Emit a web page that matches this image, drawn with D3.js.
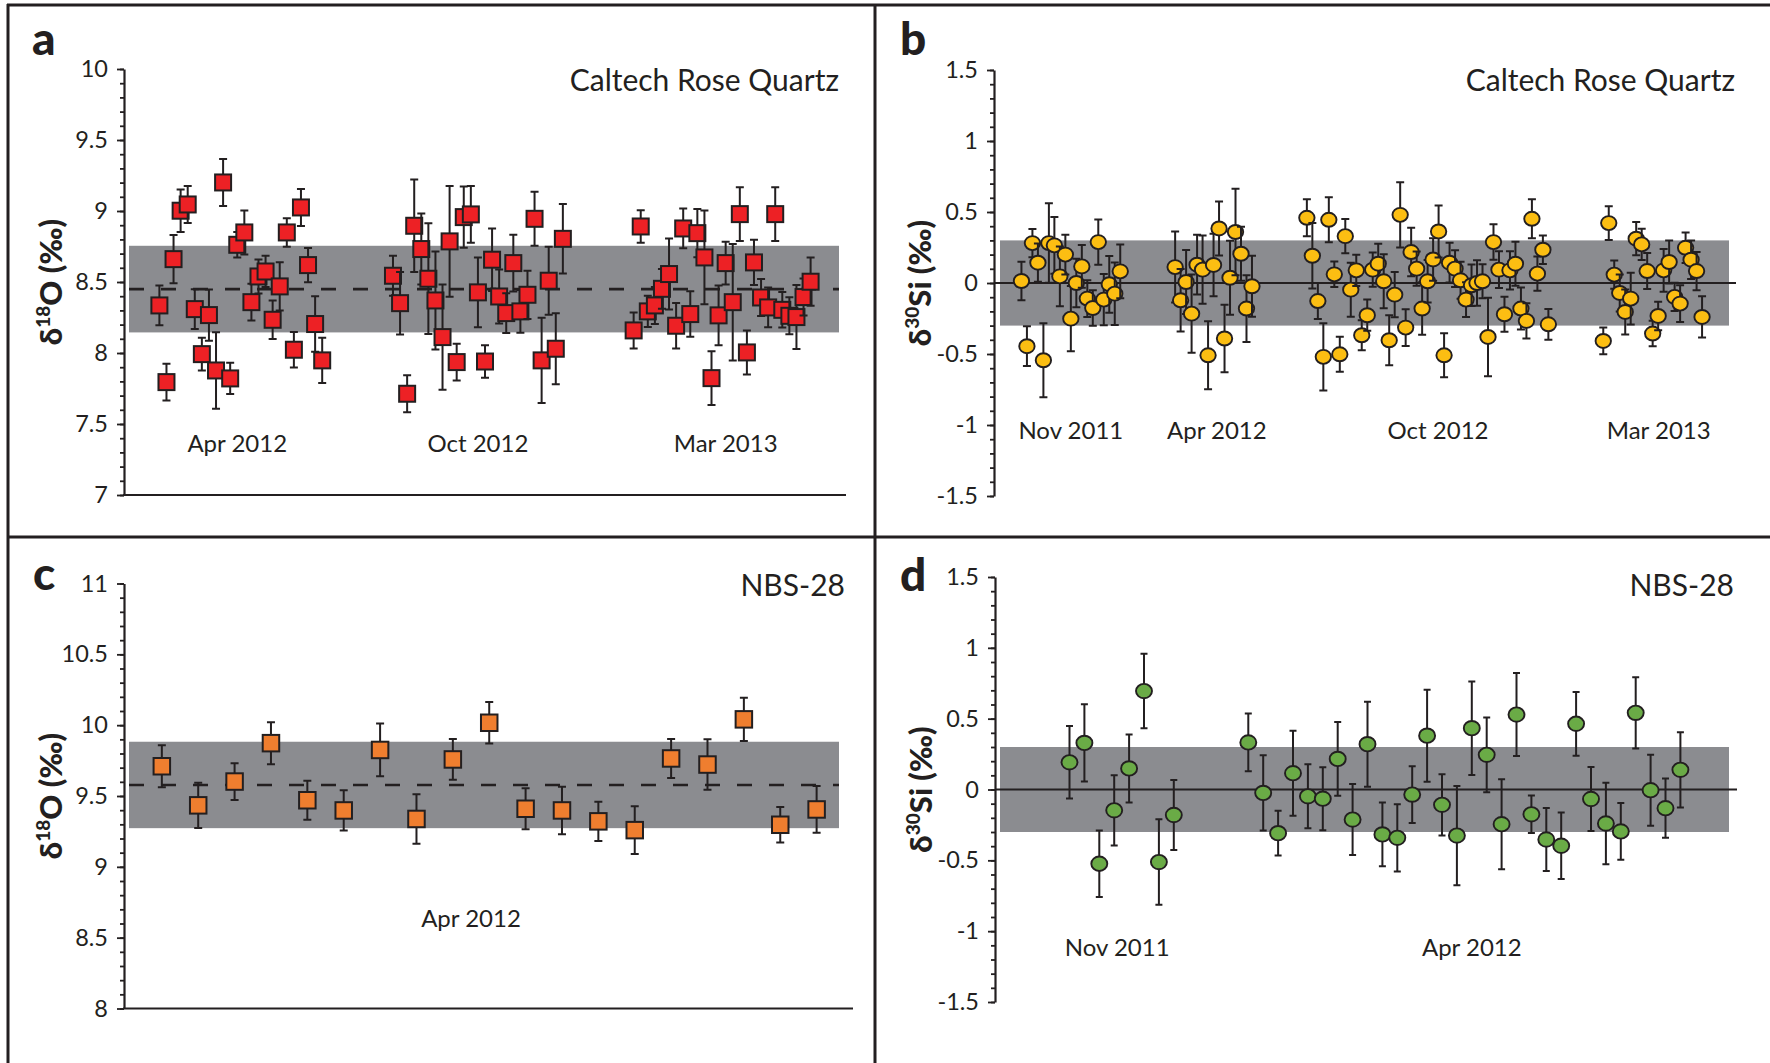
<!DOCTYPE html>
<html>
<head>
<meta charset="utf-8">
<script src="https://cdn.jsdelivr.net/npm/d3@7"></script>
<style>
  html, body { margin: 0; padding: 0; background: #fff; }
  svg { display: block; }
  text { font-family: Lato, "Open Sans", sans-serif; fill: #231f20; }
</style>
</head>
<body>
<svg id="chart" width="1770" height="1063"></svg>
<script>
// ---------------- data ----------------
// (a) Caltech Rose Quartz, d18O (permil): analysis slot, value, 2-sigma error
const aRuns = [0,1,2,3,4,5,6,7,8,9,10,11,12,13,14,15,16,17,18,19,20,21,22,23,
  33,34,35,36,37,38,39,40,41,42,43,44,45,46,47,48,49,50,51,52,53,54,55,56,57,
  67,68,69,70,71,72,73,74,75,76,77,78,79,80,81,82,83,84,85,86,87,88,89,90,91,92];
const aD18O = [8.335,7.795,8.661,9.002,9.046,8.309,7.992,8.267,7.877,9.201,7.821,8.762,8.849,8.358,8.539,8.574,8.234,8.469,8.849,8.023,9.025,8.619,8.204,7.948,
  8.544,8.351,7.713,8.896,8.732,8.523,8.370,8.112,8.786,7.936,8.957,8.976,8.427,7.940,8.657,8.398,8.281,8.633,8.293,8.410,8.945,7.948,8.509,8.030,8.804,
  8.159,8.891,8.293,8.335,8.452,8.556,8.192,8.877,8.274,8.844,8.673,7.823,8.265,8.633,8.358,8.978,8.004,8.638,8.391,8.321,8.978,8.304,8.262,8.253,8.394,8.502];
const aErr = [0.14,0.13,0.17,0.15,0.13,0.14,0.115,0.18,0.27,0.165,0.11,0.09,0.155,0.13,0.12,0.11,0.135,0.17,0.10,0.125,0.13,0.12,0.195,0.16,
  0.14,0.22,0.13,0.325,0.25,0.39,0.345,0.37,0.39,0.13,0.215,0.20,0.245,0.115,0.22,0.19,0.14,0.20,0.15,0.17,0.19,0.30,0.24,0.25,0.245,
  0.127,0.115,0.11,0.13,0.14,0.25,0.16,0.14,0.16,0.17,0.33,0.19,0.21,0.15,0.41,0.19,0.155,0.16,0.13,0.14,0.19,0.125,0.13,0.225,0.13,0.17];
const aMean = 8.45, aHalfBand = 0.305;
const aDateLabels = ["Apr 2012", "Oct 2012", "Mar 2013"];
const aDatePos = [11, 45, 80];

// (b) Caltech Rose Quartz, d30Si (permil)
const bRuns = [0,1,2,3,4,5,6,7,8,9,10,11,12,13,14,15,16,17,18,
  28,29,30,31,32,33,34,35,36,37,38,39,40,41,42,
  52,53,54,55,56,57,58,59,60,61,62,63,64,65,66,67,68,69,70,71,72,73,74,75,76,77,78,79,80,81,82,83,84,85,86,87,88,89,90,91,92,93,94,95,96,
  106,107,108,109,110,111,112,113,114,115,116,117,118,119,120,121,122,123,124];
const bD30Si = [0.014,-0.445,0.281,0.143,-0.544,0.281,0.265,0.047,0.200,-0.251,0.000,0.117,-0.110,-0.176,0.288,-0.117,-0.009,-0.075,0.082,
  0.112,-0.122,0.007,-0.216,0.129,0.094,-0.509,0.127,0.384,-0.391,0.037,0.359,0.206,-0.180,-0.023,
  0.459,0.192,-0.127,-0.520,0.445,0.061,-0.502,0.330,-0.047,0.089,-0.368,-0.227,0.094,0.136,0.012,-0.403,-0.082,0.480,-0.314,0.218,0.101,-0.180,0.012,0.166,0.363,-0.509,0.143,0.101,0.019,-0.117,-0.016,0.000,0.012,-0.380,0.288,0.094,-0.220,0.089,0.136,-0.180,-0.267,0.452,0.066,0.234,-0.291,
  -0.408,0.422,0.059,-0.070,-0.204,-0.110,0.312,0.272,0.084,-0.356,-0.232,0.089,0.148,-0.098,-0.145,0.248,0.164,0.084,-0.239];
const bErr = [0.135,0.14,0.10,0.135,0.26,0.28,0.20,0.21,0.14,0.23,0.17,0.15,0.13,0.125,0.16,0.18,0.20,0.22,0.19,
  0.25,0.22,0.225,0.275,0.21,0.24,0.24,0.22,0.19,0.237,0.26,0.305,0.19,0.235,0.215,
  0.13,0.23,0.127,0.237,0.158,0.09,0.123,0.12,0.19,0.11,0.105,0.11,0.12,0.14,0.19,0.176,0.16,0.23,0.13,0.171,0.12,0.185,0.15,0.15,0.183,0.155,0.14,0.13,0.13,0.123,0.146,0.16,0.12,0.277,0.125,0.13,0.123,0.135,0.155,0.148,0.124,0.137,0.12,0.10,0.108,
  0.094,0.119,0.10,0.13,0.158,0.183,0.117,0.11,0.127,0.09,0.10,0.15,0.152,0.10,0.13,0.108,0.135,0.135,0.145];
const bHalfBand = 0.3;
const bDateLabels = ["Nov 2011", "Apr 2012", "Oct 2012", "Mar 2013"];
const bDatePos = [9, 35.6, 75.9, 116.1];

// (c) NBS-28, d18O (permil)
const cRuns = [0,1,2,3,4,5,6,7,8,9,10,11,12,13,14,15,16,17,18];
const cD18O = [9.710,9.434,9.602,9.873,9.470,9.398,9.825,9.338,9.758,10.017,9.410,9.398,9.321,9.259,9.765,9.722,10.041,9.297,9.405];
const cErr = [0.149,0.16,0.13,0.148,0.138,0.142,0.186,0.175,0.144,0.146,0.144,0.168,0.138,0.168,0.138,0.178,0.153,0.126,0.165];
const cMean = 9.578, cHalfBand = 0.305;
const cDateLabels = ["Apr 2012"];
const cDatePos = [8.5];

// (d) NBS-28, d30Si (permil)
const dRuns = [0,1,2,3,4,5,6,7,
  12,13,14,15,16,17,18,19,20,21,22,23,24,25,26,27,28,29,30,31,32,33,34,35,36,37,38,39,40,41];
const dD30Si = [0.192,0.329,-0.524,-0.147,0.149,0.695,-0.512,-0.180,
  0.332,-0.024,-0.308,0.115,-0.048,-0.065,0.216,-0.212,0.320,-0.317,-0.341,-0.036,0.380,-0.108,-0.325,0.433,0.245,-0.245,0.529,-0.175,-0.353,-0.397,0.464,-0.067,-0.240,-0.296,0.541,-0.005,-0.132,0.139];
const dErr = [0.256,0.272,0.235,0.248,0.24,0.263,0.302,0.247,
  0.204,0.266,0.158,0.30,0.226,0.222,0.26,0.25,0.30,0.225,0.237,0.20,0.325,0.216,0.35,0.33,0.264,0.318,0.293,0.132,0.222,0.234,0.225,0.226,0.288,0.20,0.252,0.25,0.209,0.266];
const dHalfBand = 0.3;
const dDateLabels = ["Nov 2011", "Apr 2012"];
const dDatePos = [3.2, 27];

// ---------------- drawing ----------------
const INK = "#231f20";
const BAND = "#8b8c90";
const svg = d3.select("#chart");

function drawPanel(p) {
  const g = svg.append("g");
  const x = d3.scaleLinear().domain(p.xDomain).range(p.xRange);
  const y = d3.scaleLinear().domain(p.yDomain).range(p.yRange);

  // reproducibility band (mean +/- 2 sd)
  g.append("rect")
    .attr("x", p.band[0]).attr("width", p.band[1] - p.band[0])
    .attr("y", y(p.mean + p.half))
    .attr("height", y(p.mean - p.half) - y(p.mean + p.half))
    .attr("fill", BAND);

  // mean / zero reference line
  const ref = g.append("line")
    .attr("x1", p.refLine[0]).attr("x2", p.refLine[1])
    .attr("y1", y(p.mean)).attr("y2", y(p.mean))
    .attr("stroke", INK).attr("stroke-width", p.dashed ? 2.6 : 2);
  if (p.dashed) ref.attr("stroke-dasharray", "15,17");

  // y axis: minor ticks every 0.1, labelled ticks every 0.5
  const minor = g.append("g").attr("transform", `translate(${p.xRange[0]},0)`)
    .call(d3.axisLeft(y).ticks(30).tickSize(4).tickSizeOuter(0).tickFormat(""));
  minor.select(".domain").remove();
  minor.selectAll("line").attr("stroke", INK).attr("stroke-width", 1.8);

  const major = g.append("g").attr("transform", `translate(${p.xRange[0]},0)`)
    .call(d3.axisLeft(y).ticks(6).tickSize(7).tickSizeOuter(0).tickPadding(9)
      .tickFormat(d => String(d)));
  major.select(".domain").attr("stroke", INK).attr("stroke-width", 2.2);
  major.selectAll("line").attr("stroke", INK).attr("stroke-width", 1.8);
  major.selectAll("text").attr("font-size", 23.5).attr("fill", INK)
    .style("font-family", "Lato, sans-serif");

  // bottom axis line
  if (p.xAxisEnd) {
    g.append("line")
      .attr("x1", p.xRange[0] - 1).attr("x2", p.xAxisEnd)
      .attr("y1", y(p.yDomain[0])).attr("y2", y(p.yDomain[0]))
      .attr("stroke", INK).attr("stroke-width", 2.2);
  }

  // session labels
  g.selectAll("text.date").data(p.dateLabels).join("text")
    .attr("class", "date")
    .attr("x", (d, i) => x(p.datePos[i]))
    .attr("y", p.dateY)
    .attr("text-anchor", "middle")
    .attr("font-size", 24)
    .text(d => d);

  // data points with error bars
  const pts = p.runs.map((r, i) => ({ r, v: p.vals[i], e: p.errs[i] }));
  const pg = g.selectAll("g.pt").data(pts).join("g").attr("class", "pt");
  pg.append("path")
    .attr("d", d => {
      const cx = x(d.r), y1 = y(d.v + d.e), y2 = y(d.v - d.e), w = p.capW / 2;
      return `M${cx},${y1}V${y2}M${cx - w},${y1}H${cx + w}M${cx - w},${y2}H${cx + w}`;
    })
    .attr("fill", "none").attr("stroke", INK).attr("stroke-width", 2);
  if (p.marker === "square") {
    pg.append("rect")
      .attr("x", d => x(d.r) - p.size / 2).attr("y", d => y(d.v) - p.size / 2)
      .attr("width", p.size).attr("height", p.size)
      .attr("fill", p.color).attr("stroke", INK).attr("stroke-width", 2);
  } else {
    pg.append("ellipse")
      .attr("cx", d => x(d.r)).attr("cy", d => y(d.v))
      .attr("rx", p.rx).attr("ry", p.ry)
      .attr("fill", p.color).attr("stroke", INK).attr("stroke-width", 1.9);
  }

  // sample name
  g.append("text")
    .attr("x", p.titleX).attr("y", p.titleY)
    .attr("text-anchor", "end").attr("font-size", 30)
    .text(p.title);

  // panel letter
  g.append("text")
    .attr("x", p.letterX).attr("y", p.letterY)
    .attr("font-size", 46).attr("font-weight", 900)
    .text(p.letter);

  // y axis title
  const cy = (p.yRange[0] + p.yRange[1]) / 2;
  const t = g.append("text")
    .attr("transform", `translate(${p.yTitleX},${cy}) rotate(-90)`)
    .attr("text-anchor", "middle")
    .attr("font-size", 31).attr("font-weight", 900);
  t.append("tspan").text("δ");
  t.append("tspan").attr("font-size", 19).attr("dy", -12).text(p.isotope);
  t.append("tspan").attr("dy", 12).text(p.element + " (‰)");
}

const panels = [
  { runs: aRuns, vals: aD18O, errs: aErr, mean: aMean, half: aHalfBand,
    dateLabels: aDateLabels, datePos: aDatePos,
    xDomain: [-5, 97], xRange: [124, 846], yDomain: [7, 10], yRange: [495, 69],
    band: [129, 839], refLine: [129, 839], dashed: true, xAxisEnd: 846,
    marker: "square", size: 16, color: "#ed2125", capW: 8, dateY: 452,
    title: "Caltech Rose Quartz", titleX: 839, titleY: 91,
    letter: "a", letterX: 32, letterY: 55, yTitleX: 62, isotope: "18", element: "O" },
  { runs: bRuns, vals: bD30Si, errs: bErr, mean: 0, half: bHalfBand,
    dateLabels: bDateLabels, datePos: bDatePos,
    xDomain: [-5, 130], xRange: [994, 1735], yDomain: [-1.5, 1.5], yRange: [496, 70],
    band: [1000, 1729], refLine: [994, 1736], dashed: false, xAxisEnd: null,
    marker: "circle", rx: 7.7, ry: 7.0, color: "#fcbe12", capW: 8, dateY: 439,
    title: "Caltech Rose Quartz", titleX: 1735, titleY: 91,
    letter: "b", letterX: 900, letterY: 55, yTitleX: 931, isotope: "30", element: "Si" },
  { runs: cRuns, vals: cD18O, errs: cErr, mean: cMean, half: cHalfBand,
    dateLabels: cDateLabels, datePos: cDatePos,
    xDomain: [-1.04, 19], xRange: [124, 853], yDomain: [8, 11], yRange: [1008.5, 583.5],
    band: [129, 839], refLine: [129, 839], dashed: true, xAxisEnd: 853,
    marker: "square", size: 16.5, color: "#ef7e2f", capW: 8, dateY: 927,
    title: "NBS-28", titleX: 845, titleY: 596,
    letter: "c", letterX: 33, letterY: 590, yTitleX: 62, isotope: "18", element: "O" },
  { runs: dRuns, vals: dD30Si, errs: dErr, mean: 0, half: dHalfBand,
    dateLabels: dDateLabels, datePos: dDatePos,
    xDomain: [-5, 45], xRange: [995, 1740], yDomain: [-1.5, 1.5], yRange: [1002, 577],
    band: [1000, 1729], refLine: [995, 1737], dashed: false, xAxisEnd: null,
    marker: "circle", rx: 8.0, ry: 7.2, color: "#6aab46", capW: 7, dateY: 956,
    title: "NBS-28", titleX: 1734, titleY: 596,
    letter: "d", letterX: 900, letterY: 591, yTitleX: 932, isotope: "30", element: "Si" }
];
panels.forEach(drawPanel);

// panel frame
const frame = svg.append("g").attr("stroke", INK).attr("stroke-width", 3);
frame.append("line").attr("x1", 7).attr("x2", 1770).attr("y1", 5).attr("y2", 5);
frame.append("line").attr("x1", 8).attr("x2", 8).attr("y1", 4).attr("y2", 1063);
frame.append("line").attr("x1", 875).attr("x2", 875).attr("y1", 4).attr("y2", 1063);
frame.append("line").attr("x1", 8).attr("x2", 1770).attr("y1", 537).attr("y2", 537);
</script>
</body>
</html>
